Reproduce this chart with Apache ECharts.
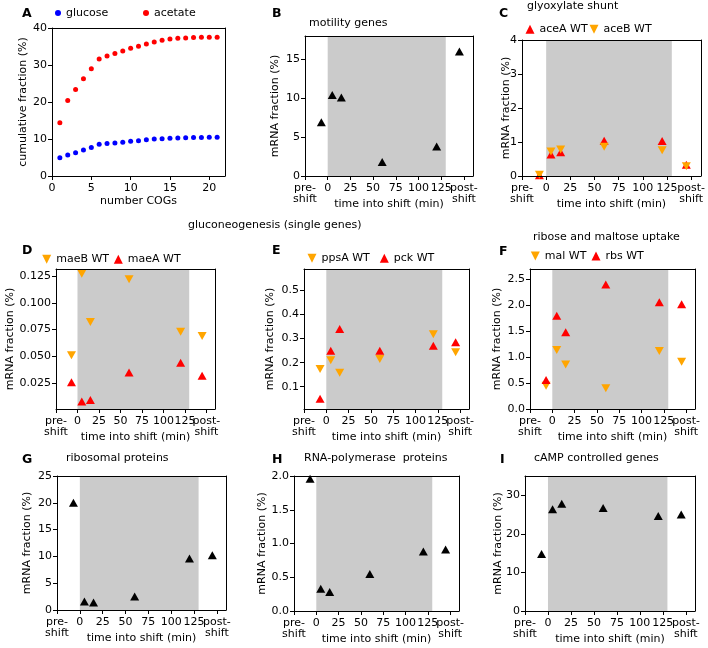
<!DOCTYPE html>
<html><head><meta charset="utf-8">
<script src="https://cdn.jsdelivr.net/npm/echarts@6/dist/echarts.min.js"></script>
<style>html,body{margin:0;padding:0;background:#fff}#chart{width:708px;height:648px}</style>
</head><body><div id="chart"></div>
<script>
// ---------------- data ----------------
const cogNumbers = [1,2,3,4,5,6,7,8,9,10,11,12,13,14,15,16,17,18,19,20,21];
const glucoseCumulative = [4.9,5.7,6.3,7.0,7.7,8.6,8.8,8.9,9.1,9.4,9.5,9.8,10.0,10.1,10.2,10.3,10.35,10.4,10.4,10.45,10.45];
const acetateCumulative = [14.4,20.4,23.4,26.3,29.0,31.6,32.4,33.1,33.8,34.5,35.1,35.7,36.2,36.7,37.0,37.2,37.3,37.4,37.5,37.5,37.5];
const cogTicks = [0,5,10,15,20];

const timePoints = [-7,5,15,60,120,145];            // pre-shift, 5, 15, 60, 120 min, post-shift
const timeTickValues = [-25,0,25,50,75,100,125,150];
const timeTickLabels = ['pre-\nshift','0','25','50','75','100','125','post-\nshift'];
const shiftWindow = [0,130];

const motilityGenes = [6.9,10.4,10.1,1.8,3.8,16.0];
const aceA_WT = [0.02,0.63,0.70,1.04,1.03,0.33];
const aceB_WT = [0.04,0.72,0.78,0.86,0.76,0.29];
const maeB_WT = [0.051,0.127,0.082,0.122,0.073,0.069];
const maeA_WT = [0.026,0.008,0.0095,0.035,0.044,0.032];
const ppsA_WT = [0.174,0.21,0.158,0.215,0.318,0.243];
const pck_WT = [0.05,0.25,0.34,0.25,0.27,0.285];
const mal_WT = [0.45,1.14,0.86,0.40,1.12,0.91];
const rbs_WT = [0.56,1.80,1.48,2.40,2.06,2.02];
const ribosomalProteins = [20.0,1.6,1.4,2.5,9.6,10.2];
const rnaPolymeraseProteins = [1.96,0.33,0.28,0.55,0.88,0.91];
const campControlledGenes = [14.8,26.4,27.8,26.7,24.6,25.0];

const yTicksA = [0,10,20,30,40];
const yTicksB = [0,5,10,15];
const yTicksC = [0,1,2,3,4];
const yTicksD = [0.025,0.05,0.075,0.1,0.125];
const yTicksE = [0.1,0.2,0.3,0.4,0.5];
const yTicksF = [0,0.5,1.0,1.5,2.0,2.5];
const yTicksG = [0,5,10,15,20,25];
const yTicksH = [0,0.5,1.0,1.5,2.0];
const yTicksI = [0,10,20,30];

// ---------------- layout / style ----------------
const FONT = 'DejaVu Sans';
const FS = 11;
const RED = '#ff0000', ORANGE = '#ffa500', BLACK = '#000000', BLUE = '#0000ff';
const TRI_UP = 'triangle';
const TRI_DOWN = 'path://M0,0L10,0L5,10Z';
const TRI_SIZE = [9, 8];

const timeAxis = {range:[-25,160], ticks:timeTickValues, labels:timeTickLabels, name:'time into shift (min)', gap:23};
const panels = [
  {grid:[52,28,173,148], x:{range:[0,22], ticks:cogTicks, labels:null, name:'number COGs', gap:20},
   y:{range:[0,40], ticks:yTicksA, dec:0, name:'cumulative fraction (%)', gap:23}, shade:false},
  {grid:[305,36,168,140], x:timeAxis, y:{range:[0,18], ticks:yTicksB, dec:0, name:'mRNA fraction (%)', gap:24}, shade:true},
  {grid:[522,40,179,136], x:timeAxis, y:{range:[0,4], ticks:yTicksC, dec:0, name:'mRNA fraction (%)', gap:10}, shade:true},
  {grid:[56,269,159,140], x:timeAxis, y:{range:[0.001,0.1315], ticks:yTicksD, dec:3, name:'mRNA fraction (%)', gap:40}, shade:true},
  {grid:[304,269,165,140], x:timeAxis, y:{range:[0.007,0.59], ticks:yTicksE, dec:1, name:'mRNA fraction (%)', gap:28}, shade:true},
  {grid:[530,269,165,140], x:timeAxis, y:{range:[0,2.7], ticks:yTicksF, dec:1, name:'mRNA fraction (%)', gap:27}, shade:true},
  {grid:[57,476,169,134], x:timeAxis, y:{range:[0,25], ticks:yTicksG, dec:0, name:'mRNA fraction (%)', gap:24}, shade:true},
  {grid:[294,476,165,135], x:timeAxis, y:{range:[0,2.0], ticks:yTicksH, dec:1, name:'mRNA fraction (%)', gap:26}, shade:true},
  {grid:[525,476,170,135], x:timeAxis, y:{range:[0,35], ticks:yTicksI, dec:0, name:'mRNA fraction (%)', gap:21}, shade:true}
];

const seriesDefs = [
  {g:0, name:'glucose', xs:cogNumbers, ys:glucoseCumulative, color:BLUE, symbol:'circle', size:5},
  {g:0, name:'acetate', xs:cogNumbers, ys:acetateCumulative, color:RED, symbol:'circle', size:5},
  {g:1, name:'motility', xs:timePoints, ys:motilityGenes, color:BLACK, symbol:TRI_UP, size:TRI_SIZE},
  {g:2, name:'aceA WT', xs:timePoints, ys:aceA_WT, color:RED, symbol:TRI_UP, size:TRI_SIZE},
  {g:2, name:'aceB WT', xs:timePoints, ys:aceB_WT, color:ORANGE, symbol:TRI_DOWN, size:TRI_SIZE},
  {g:3, name:'maeB WT', xs:timePoints, ys:maeB_WT, color:ORANGE, symbol:TRI_DOWN, size:TRI_SIZE},
  {g:3, name:'maeA WT', xs:timePoints, ys:maeA_WT, color:RED, symbol:TRI_UP, size:TRI_SIZE},
  {g:4, name:'ppsA WT', xs:timePoints, ys:ppsA_WT, color:ORANGE, symbol:TRI_DOWN, size:TRI_SIZE},
  {g:4, name:'pck WT', xs:timePoints, ys:pck_WT, color:RED, symbol:TRI_UP, size:TRI_SIZE},
  {g:5, name:'mal WT', xs:timePoints, ys:mal_WT, color:ORANGE, symbol:TRI_DOWN, size:TRI_SIZE},
  {g:5, name:'rbs WT', xs:timePoints, ys:rbs_WT, color:RED, symbol:TRI_UP, size:TRI_SIZE},
  {g:6, name:'ribosomal', xs:timePoints, ys:ribosomalProteins, color:BLACK, symbol:TRI_UP, size:TRI_SIZE},
  {g:7, name:'RNAP', xs:timePoints, ys:rnaPolymeraseProteins, color:BLACK, symbol:TRI_UP, size:TRI_SIZE},
  {g:8, name:'cAMP', xs:timePoints, ys:campControlledGenes, color:BLACK, symbol:TRI_UP, size:TRI_SIZE}
];

const textItems = [
  {t:'A', x:22, cy:14, bold:true}, {t:'B', x:272, cy:14, bold:true}, {t:'C', x:499, cy:14, bold:true},
  {t:'D', x:22, cy:251, bold:true}, {t:'E', x:272, cy:251, bold:true}, {t:'F', x:499, cy:252, bold:true},
  {t:'G', x:22, cy:460, bold:true}, {t:'H', x:272, cy:460, bold:true}, {t:'I', x:500, cy:460, bold:true},
  {t:'motility genes', x:309, cy:24}, {t:'glyoxylate shunt', x:527, cy:7.5},
  {t:'gluconeogenesis (single genes)', x:188, cy:226}, {t:'ribose and maltose uptake', x:533, cy:238.5},
  {t:'ribosomal proteins', x:66, cy:459.5}, {t:'RNA-polymerase  proteins', x:304, cy:459.5},
  {t:'cAMP controlled genes', x:534, cy:459.5}
];

const legendItems = [
  {name:'glucose', mx:58, tx:78, cy:13, w:6, extra:10},
  {name:'acetate', mx:146, tx:165, cy:13, w:6, extra:10},
  {name:'aceA WT', mx:530, tx:539, cy:29.3, w:9, extra:0},
  {name:'aceB WT', mx:594, tx:603, cy:29.3, w:9, extra:0},
  {name:'maeB WT', mx:46.7, tx:55, cy:259.3, w:9, extra:0},
  {name:'maeA WT', mx:118.3, tx:125, cy:259.3, w:9, extra:0},
  {name:'ppsA WT', mx:312, tx:320, cy:258.3, w:9, extra:0},
  {name:'pck WT', mx:384.3, tx:392.7, cy:258.3, w:9, extra:0},
  {name:'mal WT', mx:535.3, tx:543.7, cy:256, w:9, extra:0},
  {name:'rbs WT', mx:596, tx:605.3, cy:256, w:9, extra:0}
];

// ---------------- build option ----------------
const txt = {fontFamily:FONT, fontSize:FS, color:BLACK};
const grids = [], xAxes = [], yAxes = [], series = [];

panels.forEach((p, i) => {
  grids.push({left:p.grid[0], top:p.grid[1], width:p.grid[2], height:p.grid[3], containLabel:false});
  const xl = p.x.labels;
  // an empty trailing label at the axis max keeps the last real label from being treated as the "max label"
  const labelVals = xl ? p.x.ticks.concat([p.x.range[1]]) : p.x.ticks;
  xAxes.push({
    type:'value', gridIndex:i, position:'bottom', min:p.x.range[0], max:p.x.range[1], z:10,
    name:p.x.name, nameLocation:'middle', nameGap:p.x.gap, nameTextStyle:txt, nameMoveOverlap:false,
    axisLine:{show:true, onZero:false, lineStyle:{color:BLACK, width:1}},
    axisTick:{show:true, length:4, lineStyle:{color:BLACK}, customValues:p.x.ticks},
    axisLabel:{...txt, margin:6, lineHeight:11.5, hideOverlap:false,
      customValues:labelVals,
      formatter:(v)=>{ if(!xl) return String(v); const k=p.x.ticks.indexOf(v); return k>=0?xl[k]:''; }},
    splitLine:{show:false}
  });
  const dec = p.y.dec;
  yAxes.push({
    type:'value', gridIndex:i, position:'left', min:p.y.range[0], max:p.y.range[1], z:10,
    name:p.y.name, nameLocation:'middle', nameRotate:90, nameGap:p.y.gap, nameTextStyle:txt, nameMoveOverlap:false,
    axisLine:{show:true, onZero:false, lineStyle:{color:BLACK, width:1}},
    axisTick:{show:true, length:4, lineStyle:{color:BLACK}, customValues:p.y.ticks},
    axisLabel:{...txt, margin:5, hideOverlap:false, customValues:p.y.ticks, formatter:(v)=>Number(v).toFixed(dec)},
    splitLine:{show:false}
  });
});
// frame (top / right spines)
panels.forEach((p, i) => {
  xAxes.push({type:'value', gridIndex:i, position:'top', min:0, max:1, z:10,
    axisLine:{show:true, onZero:false, lineStyle:{color:BLACK, width:1}},
    axisTick:{show:false}, axisLabel:{show:false}, splitLine:{show:false}});
  yAxes.push({type:'value', gridIndex:i, position:'right', min:0, max:1, z:10,
    axisLine:{show:true, onZero:false, lineStyle:{color:BLACK, width:1}},
    axisTick:{show:false}, axisLabel:{show:false}, splitLine:{show:false}});
});

const shadedDone = {};
seriesDefs.forEach(s => {
  const ser = {
    type:'scatter', name:s.name, xAxisIndex:s.g, yAxisIndex:s.g,
    data:s.xs.map((x,k)=>[x, s.ys[k]]),
    symbol:s.symbol, symbolSize:s.size, itemStyle:{color:s.color, opacity:1},
    emphasis:{disabled:true}, silent:true, clip:false, z:3
  };
  if (panels[s.g].shade && !shadedDone[s.g]) {
    shadedDone[s.g] = true;
    ser.markArea = {silent:true, itemStyle:{color:'#cbcbcb', opacity:1},
      data:[[{xAxis:shiftWindow[0]},{xAxis:shiftWindow[1]}]]};
  }
  series.push(ser);
});

const titles = textItems.map(t => ({
  text:t.t, left:t.x, top:t.cy - (t.bold ? 7 : 6.5), padding:0,
  textStyle:{fontFamily:FONT, fontSize:t.bold?12.5:FS, fontWeight:t.bold?'bold':'normal', color:BLACK}
}));

const legends = legendItems.map(l => ({
  data:[l.name], left:l.mx - l.w/2, top:l.cy - 6.5, padding:0, orient:'horizontal',
  itemWidth:l.w, itemHeight:l.w, itemTextGap:l.tx - l.mx - l.w/2 + l.extra,
  selectedMode:false, textStyle:{fontFamily:FONT, fontSize:FS, color:BLACK, lineHeight:13}
}));

const chart = echarts.init(document.getElementById('chart'), null, {renderer:'canvas'});
chart.setOption({
  animation:false, backgroundColor:'#ffffff',
  textStyle:{fontFamily:FONT},
  title:titles, legend:legends, grid:grids, xAxis:xAxes, yAxis:yAxes, series:series
});
</script></body></html>
